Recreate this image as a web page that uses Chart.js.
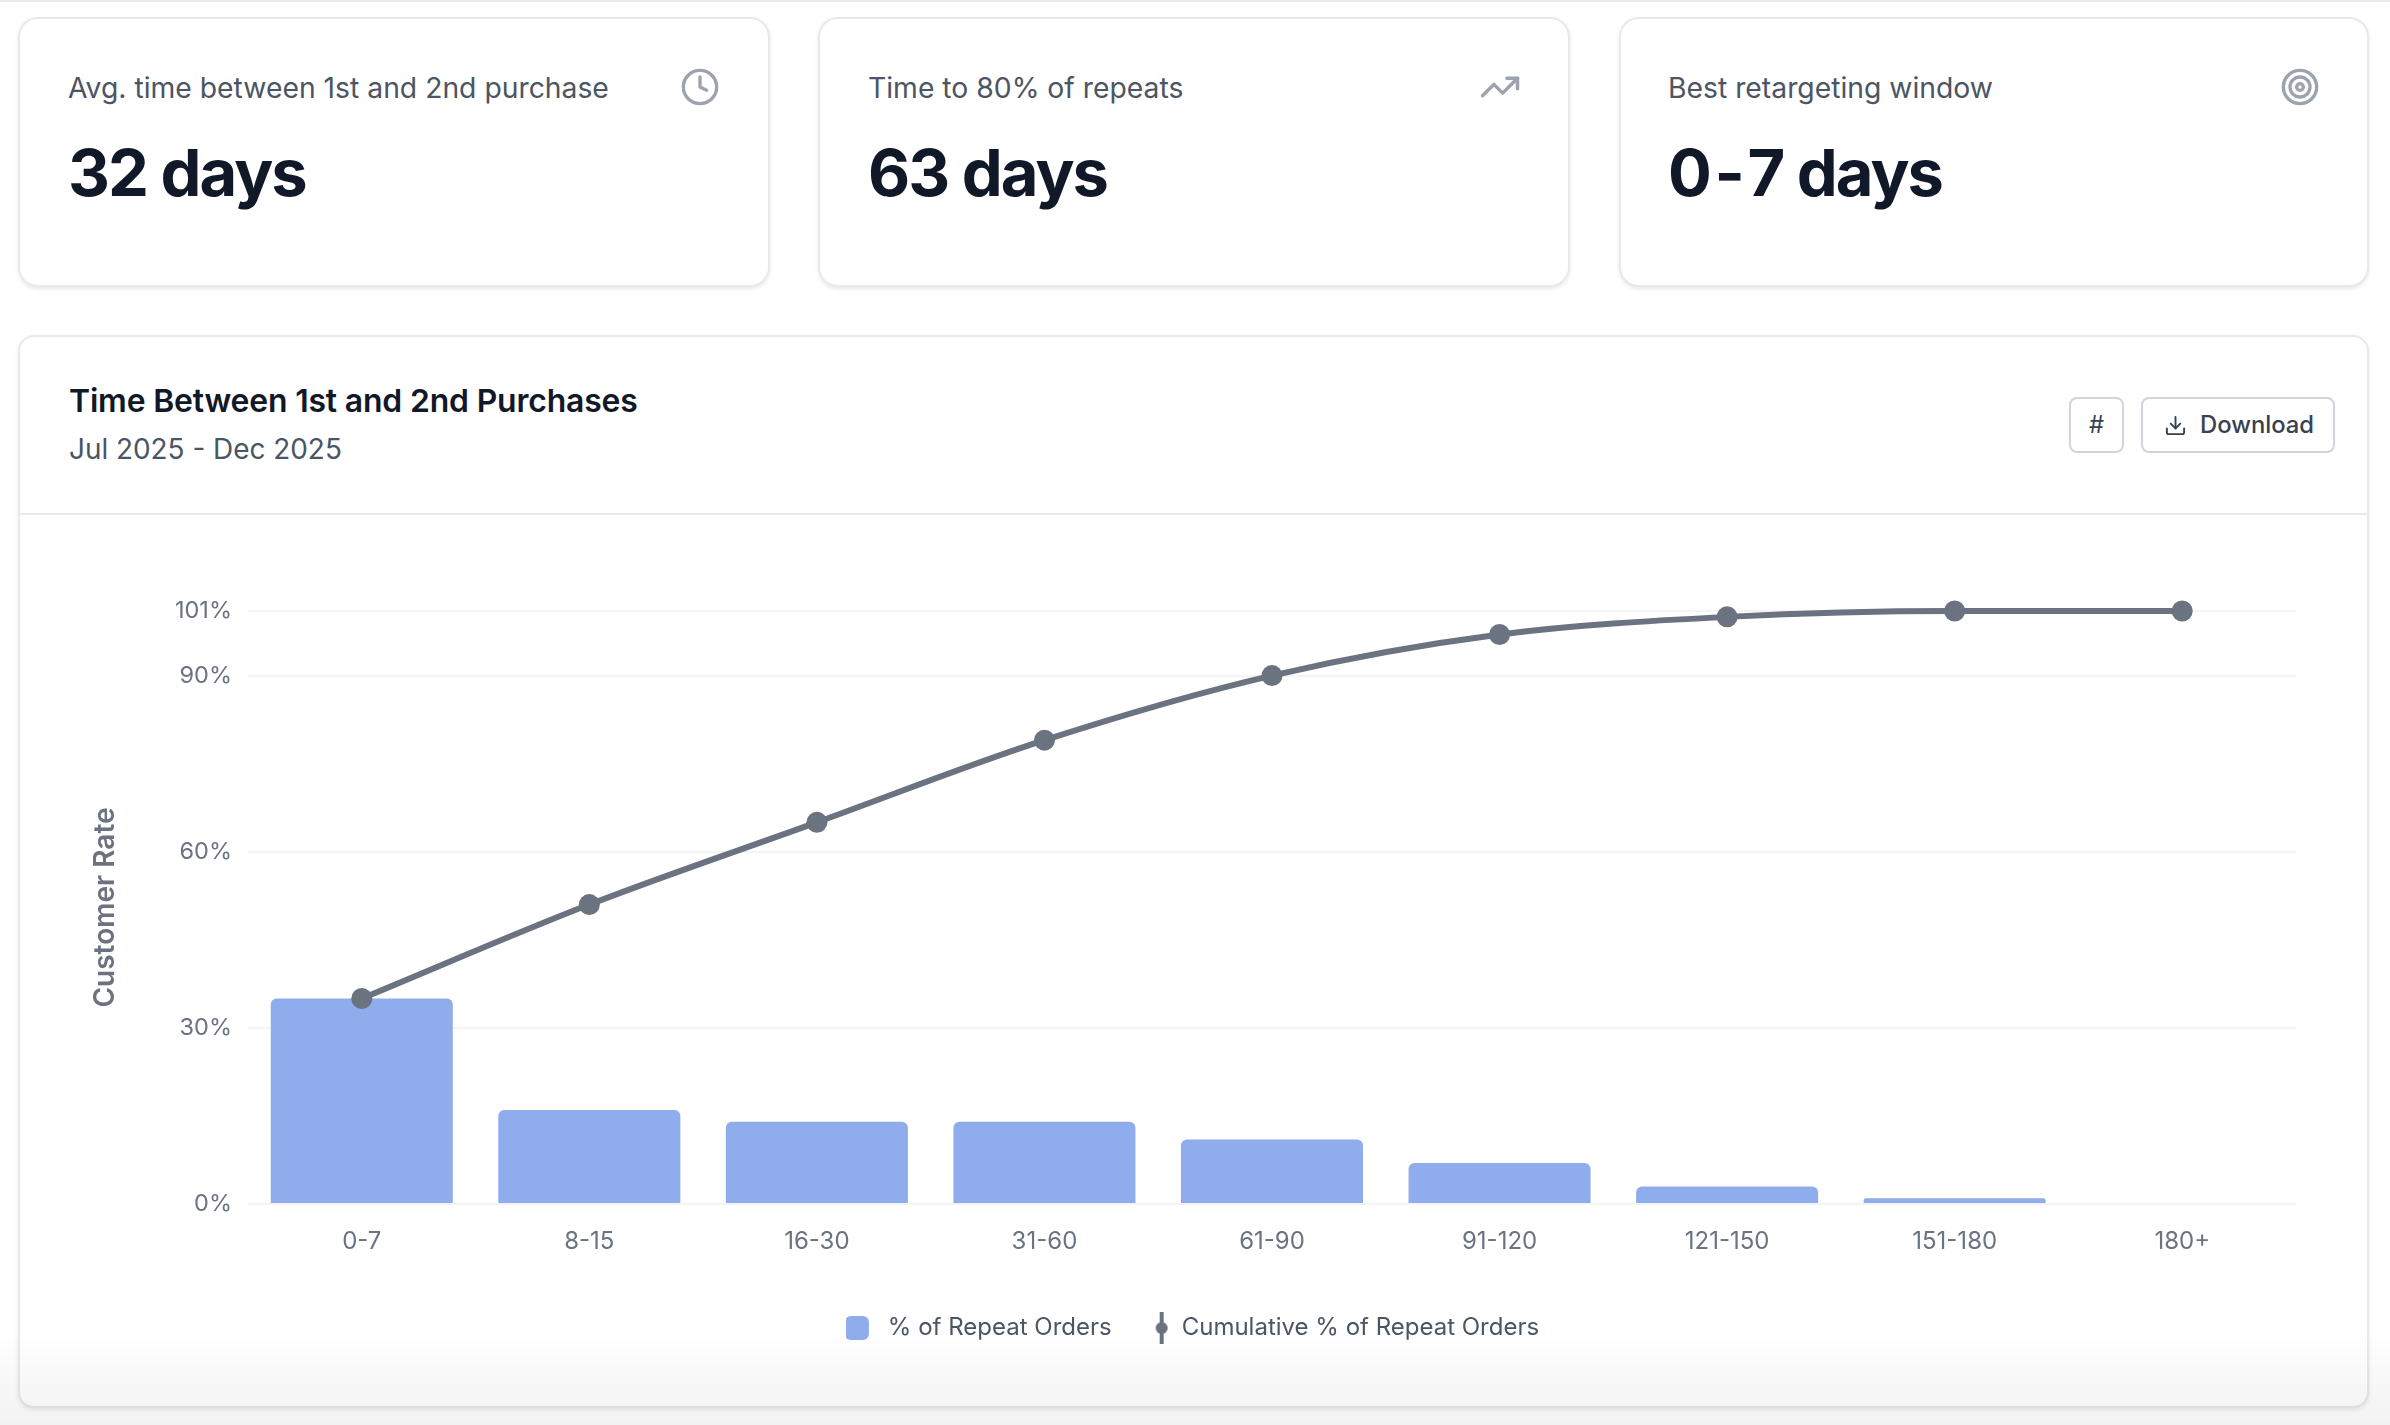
<!DOCTYPE html>
<html><head><meta charset="utf-8">
<script src="https://cdn.jsdelivr.net/npm/chart.js@4"></script>
<style>
html,body{margin:0;padding:0;background:#fff;width:2390px;height:1425px;overflow:hidden;font-family:Inter,sans-serif}
.abs{position:absolute;white-space:nowrap}
.topline{position:absolute;left:0;top:0;width:2390px;height:2px;background:#e9eaee}
.card{position:absolute;box-sizing:border-box;background:#fff;border:2px solid #e8e9ed;box-shadow:0 2px 4px rgba(0,0,0,.09)}
.kpi{top:17px;height:270px;border-radius:20px}
.label{font-size:28.3px;color:#4b5563;line-height:36px;top:70px}
.value{font-size:65px;font-weight:650;letter-spacing:-0.03em;color:#111827;line-height:76px;top:135px}
.icon{position:absolute;stroke:#9ca3af;fill:none;stroke-width:2;stroke-linecap:round;stroke-linejoin:round}
.title{font-size:31.9px;font-weight:600;color:#111827;line-height:40px;top:381px;left:69px;letter-spacing:-0.005em}
.sub{font-size:27.9px;color:#4b5563;line-height:36px;top:431px;left:69px}
.btn{position:absolute;box-sizing:border-box;top:397px;height:56px;border:2px solid #d1d5db;border-radius:8px;background:#fff;color:#374151;font-size:23.8px;font-weight:450;line-height:52px}
.divider{position:absolute;left:19px;width:2349px;top:513px;height:2px;background:#e8e9ed}
#wrap{position:absolute;left:19px;top:515px;width:2349px;height:892px}
#fade{position:absolute;left:0;top:1330px;width:2390px;height:95px;background:linear-gradient(rgba(0,0,0,0),rgba(0,0,0,.05));pointer-events:none}
</style></head><body>
<div class="topline"></div>
<div class="card kpi" style="left:18px;width:752px"></div>
<div class="card kpi" style="left:818px;width:752px"></div>
<div class="card kpi" style="left:1619px;width:750px"></div>
<div class="abs label" style="left:68px">Avg. time between 1st and 2nd purchase</div>
<div class="abs value" style="left:68px">32 days</div>
<svg class="icon" style="left:680px;top:67px" width="40" height="40" viewBox="0 0 24 24"><circle cx="12" cy="12" r="10"/><polyline points="12 6 12 12 16 14"/></svg>
<div class="abs label" style="left:868px">Time to 80% of repeats</div>
<div class="abs value" style="left:868px">63 days</div>
<svg class="icon" style="left:1479px;top:66px" width="42" height="42" viewBox="0 0 24 24"><polyline points="22 7 13.5 15.5 8.5 10.5 2 17"/><polyline points="16 7 22 7 22 13"/></svg>
<div class="abs label" style="left:1668px">Best retargeting window</div>
<div class="abs value" style="left:1668px"><span style="letter-spacing:.04em">0-</span>7 days</div>
<svg class="icon" style="left:2280px;top:67px" width="40" height="40" viewBox="0 0 24 24"><circle cx="12" cy="12" r="10"/><circle cx="12" cy="12" r="6"/><circle cx="12" cy="12" r="2"/></svg>

<div class="card" style="left:18px;top:335px;width:2351px;height:1073px;border-radius:16px"></div>
<div class="abs title">Time Between 1st and 2nd Purchases</div>
<div class="abs sub">Jul 2025 - Dec 2025</div>
<div class="btn" style="left:2069px;width:55px;text-align:center;font-weight:400">#</div>
<div class="btn" style="left:2141px;width:194px;padding-left:57px">Download</div>
<svg class="icon" style="left:2164px;top:414px;stroke:#374151" width="23" height="23" viewBox="0 0 24 24"><path d="M21 15v4a2 2 0 0 1-2 2H5a2 2 0 0 1-2-2v-4"/><polyline points="7 10 12 15 17 10"/><line x1="12" y1="15" x2="12" y2="3"/></svg>
<div class="divider"></div>
<div id="wrap"><canvas id="c"></canvas></div>
<div id="fade"></div>
<script>
const categories = ["0-7","8-15","16-30","31-60","61-90","91-120","121-150","151-180","180+"];
const repeatOrders = [35,16,14,14,11,7,3,1,0];
const cumulative = [35,51,65,79,90,97,100,101,101];
const seriesNames = ["% of Repeat Orders","Cumulative % of Repeat Orders"];
const axisTitle = "Customer Rate";
const barColor = "#8FADEC", lineColor = "#6B7280";

function roundSwatch(){
  const c=document.createElement('canvas');c.width=30;c.height=34;
  const x=c.getContext('2d');x.fillStyle=barColor;x.beginPath();x.roundRect(-1,5,24,24,6);x.fill();return c;
}
function lineSwatch(){
  const c=document.createElement('canvas');c.width=30;c.height=34;
  const x=c.getContext('2d');x.fillStyle=lineColor;x.fillRect(20,1,4,32);
  x.beginPath();x.arc(22,17,6,0,Math.PI*2);x.fill();return c;
}
const swatches=[roundSwatch(),lineSwatch()];

new Chart(document.getElementById('c'),{
  data:{labels:categories,datasets:[
    {type:'bar',label:seriesNames[0],data:repeatOrders,backgroundColor:barColor,order:2,
     barPercentage:0.8,categoryPercentage:1,
     borderRadius:{topLeft:6,topRight:6,bottomLeft:0,bottomRight:0},borderSkipped:false},
    {type:'line',label:seriesNames[1],data:cumulative,borderColor:lineColor,backgroundColor:lineColor,order:1,
     borderWidth:6,pointRadius:10.5,pointBorderWidth:0,pointBackgroundColor:lineColor,
     cubicInterpolationMode:'monotone',clip:false}
  ]},
  options:{
    responsive:true,maintainAspectRatio:false,animation:false,devicePixelRatio:1,
    layout:{padding:{left:70,right:72,top:96,bottom:57}},
    plugins:{
      tooltip:{enabled:false},
      legend:{position:'bottom',labels:{
        font:{family:'Inter',size:24},color:'#4b5563',usePointStyle:true,pointStyleWidth:30,boxHeight:24,padding:28,
        generateLabels(chart){return chart.data.datasets.map((d,i)=>({text:d.label,pointStyle:swatches[i],datasetIndex:i,fontColor:'#4b5563',hidden:false,lineWidth:0}));}
      }}
    },
    scales:{
      x:{grid:{display:false},border:{display:false},
         ticks:{color:'#6b7280',font:{family:'Inter',size:24},padding:15,maxRotation:0,autoSkip:false},
         afterFit(s){s.height=84;}},
      y:{min:0,max:101,border:{display:false},
         grid:{color:'#f3f4f6',lineWidth:2,drawTicks:false},
         afterFit(s){s.width=159;},
         title:{display:true,text:axisTitle,color:'#6b7280',font:{family:'Inter',size:28,weight:'600'},padding:0},
         ticks:{stepSize:30,color:'#6b7280',padding:16,font:{family:'Inter',size:23.5},callback:v=>v+'%'}}
    }
  }
});
</script>
</body></html>
